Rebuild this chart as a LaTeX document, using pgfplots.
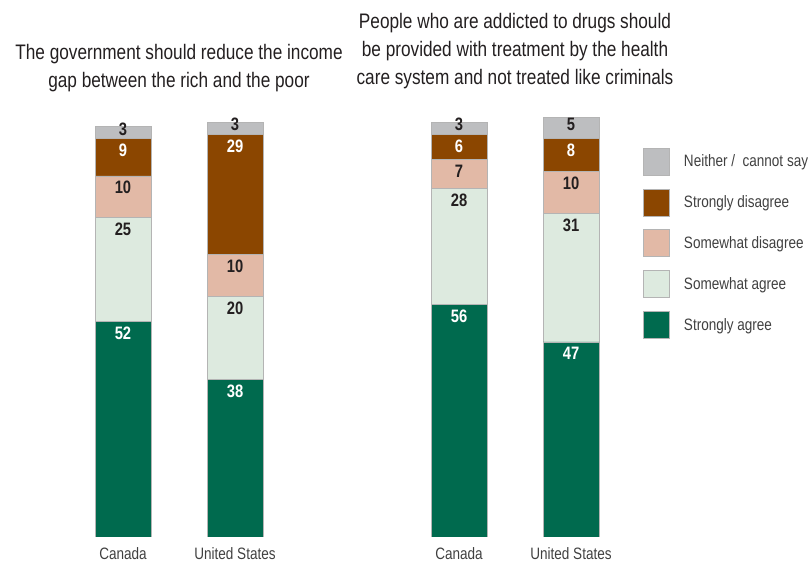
\documentclass[border=0pt]{standalone}
\usepackage{pgfplots}
\usepackage{pgfplotstable}
\pgfplotsset{compat=1.18}
\usepackage{fontspec}
\setmainfont[FakeStretch=0.82]{Liberation Sans}
\definecolor{cGrey}{HTML}{BDBEC0}
\definecolor{cBrown}{HTML}{8B4600}
\definecolor{cPink}{HTML}{E2B9A6}
\definecolor{cLight}{HTML}{DDEADF}
\definecolor{cDark}{HTML}{006A4E}
\definecolor{cEdge}{HTML}{B4B4B4}
\definecolor{cText}{HTML}{231F20}
\definecolor{cLab}{HTML}{404040}
\pgfplotstableread{
x   sa wa wd sd ne
123 52 25 10  9 3
235 38 20 10 29 3
459 56 28  7  6 3
571 47 31 10  8 5
}\data
\begin{document}
\begin{tikzpicture}
\begin{axis}[
  scale only axis, width=809pt, height=537pt,
  xmin=0, xmax=809, ymin=0, ymax=129.4,
  ybar stacked, bar width=56,
  xtick={123,235,459,571},
  xticklabels={Canada,United States,Canada,United States},
  ytick=\empty,
  xticklabel style={font=\fontsize{16.5}{18}\selectfont, text=cLab, anchor=north, inner sep=0pt, yshift=-10pt},
  axis line style={draw=none}, major tick length=0pt,
  /pgf/number format/assume math mode=true,
  point meta=explicit,
  nodes near coords,
  legend cell align=left,
  reverse legend,
  legend style={at={(0.7948,0.7253)}, anchor=north west, draw=none, fill=none,
    inner sep=0pt, row sep=13pt, column sep=12pt,
    font=\fontsize{16.5}{18}\selectfont, text=cLab,
    cells={anchor=west}},
  legend image code/.code={\draw[#1, draw=cEdge, line width=0.8pt] (0pt,-13.5pt) rectangle (26pt,13.5pt);},
  inlab/.style={nodes near coords style={font=\fontsize{18}{18}\selectfont\bfseries, anchor=north, inner sep=0pt, text=#1, yshift={\segh*2.075pt-5pt}}},
]
\addplot[fill=cDark, draw=cEdge, line width=0.8pt, visualization depends on={\thisrow{sa} \as \segh}, inlab=white]
  table[x=x, y=sa, meta=sa] {\data};
\addplot[fill=cLight, draw=cEdge, line width=0.8pt, visualization depends on={\thisrow{wa} \as \segh}, inlab=cText]
  table[x=x, y=wa, meta=wa] {\data};
\addplot[fill=cPink, draw=cEdge, line width=0.8pt, visualization depends on={\thisrow{wd} \as \segh}, inlab=cText]
  table[x=x, y=wd, meta=wd] {\data};
\addplot[fill=cBrown, draw=cEdge, line width=0.8pt, visualization depends on={\thisrow{sd} \as \segh}, inlab=white]
  table[x=x, y=sd, meta=sd] {\data};
\addplot[fill=cGrey, draw=cEdge, line width=0.8pt,
  nodes near coords style={font=\fontsize{18}{18}\selectfont\bfseries, anchor=center, inner sep=0pt, text=cText, yshift=3.5pt}]
  table[x=x, y=ne, meta=ne] {\data};
\legend{Strongly agree, Somewhat agree, Somewhat disagree, Strongly disagree, Neither /\ \ cannot say}
\end{axis}
\node[align=center, font=\fontsize{21}{28}\selectfont, text=cText] at (179pt,468.5pt)
  {The government should reduce the income\\gap between the rich and the poor};
\node[align=center, font=\fontsize{21}{28}\selectfont, text=cText] at (515pt,486pt)
  {People who are addicted to drugs should\\be provided with treatment by the health\\care system and not treated like criminals};
\pgfresetboundingbox
\path (0pt,-25pt) rectangle (809pt,537pt);
\end{tikzpicture}
\end{document}
